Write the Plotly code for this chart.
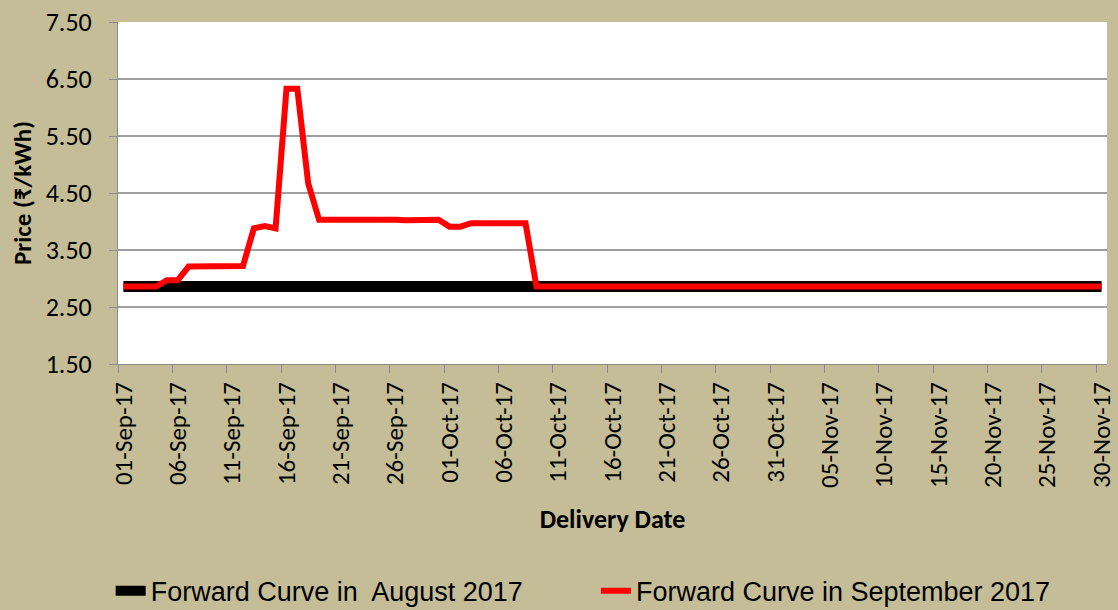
import plotly.graph_objects as go
import pandas as pd

dates = pd.date_range("2017-09-01", "2017-11-30", freq="D")

aug_curve = [
    2.86, 2.86, 2.86, 2.86, 2.86, 2.86, 2.86, 2.86, 2.86, 2.86,
    2.86, 2.86, 2.86, 2.86, 2.86, 2.86, 2.86, 2.86, 2.86, 2.86,
    2.86, 2.86, 2.86, 2.86, 2.86, 2.86, 2.86, 2.86, 2.86, 2.86,
    2.86, 2.86, 2.86, 2.86, 2.86, 2.86, 2.86, 2.86, 2.86, 2.86,
    2.86, 2.86, 2.86, 2.86, 2.86, 2.86, 2.86, 2.86, 2.86, 2.86,
    2.86, 2.86, 2.86, 2.86, 2.86, 2.86, 2.86, 2.86, 2.86, 2.86,
    2.86, 2.86, 2.86, 2.86, 2.86, 2.86, 2.86, 2.86, 2.86, 2.86,
    2.86, 2.86, 2.86, 2.86, 2.86, 2.86, 2.86, 2.86, 2.86, 2.86,
    2.86, 2.86, 2.86, 2.86, 2.86, 2.86, 2.86, 2.86, 2.86, 2.86,
    2.86,
]

sep_curve = [
    2.86, 2.86, 2.86, 2.86, 2.97, 2.97, 3.21, 3.21, 3.21, 3.22,
    3.22, 3.22, 3.88, 3.92, 3.88, 6.33, 6.33, 4.67, 4.03, 4.03,
    4.03, 4.03, 4.03, 4.05, 4.03, 4.03, 4.02, 4.02, 4.03, 4.03,
    3.91, 3.91, 3.97, 3.97, 3.97, 3.97, 3.97, 3.97, 2.86, 2.86,
    2.86, 2.86, 2.86, 2.86, 2.86, 2.86, 2.86, 2.86, 2.86, 2.86,
    2.86, 2.86, 2.86, 2.86, 2.86, 2.86, 2.86, 2.86, 2.86, 2.86,
    2.86, 2.86, 2.86, 2.86, 2.86, 2.86, 2.86, 2.86, 2.86, 2.86,
    2.86, 2.86, 2.86, 2.86, 2.86, 2.86, 2.86, 2.86, 2.86, 2.86,
    2.86, 2.86, 2.86, 2.86, 2.86, 2.86, 2.86, 2.86, 2.86, 2.86,
    2.86,
]

label_dates = dates[::5]
tick_labels = [d.strftime("%d-%b-%y") for d in label_dates]
tick_marks = label_dates - pd.Timedelta(hours=12)

y_ticks = [1.5, 2.5, 3.5, 4.5, 5.5, 6.5, 7.5]
y_labels = ["1.50", "2.50", "3.50", "4.50", "5.50", "6.50", "7.50"]

fig = go.Figure()
fig.add_trace(go.Scatter(
    x=dates, y=aug_curve, mode="lines", name="Forward Curve in  August 2017",
    line=dict(color="#000000", width=11), legend="legend",
))
fig.add_trace(go.Scatter(
    x=dates, y=sep_curve, mode="lines", name="Forward Curve in September 2017",
    line=dict(color="#FF0000", width=6), legend="legend2",
))

calibri = "Carlito, Calibri, Lato, sans-serif"
legend_font = dict(family="Liberation Sans, Arial, sans-serif", size=27, color="#000000")

fig.update_layout(
    width=1118, height=610,
    margin=dict(l=118, r=11, t=22, b=246, autoexpand=False),
    paper_bgcolor="#C4BD97",
    plot_bgcolor="#FFFFFF",
    showlegend=True,
    legend=dict(orientation="h", xref="container", yref="container",
                x=0.099, y=0.031, xanchor="left", yanchor="middle",
                font=legend_font, bgcolor="rgba(0,0,0,0)", visible=True),
    legend2=dict(orientation="h", xref="container", yref="container",
                 x=0.533, y=0.031, xanchor="left", yanchor="middle",
                 font=legend_font, bgcolor="rgba(0,0,0,0)", visible=True),
    xaxis=dict(
        type="date", automargin=False,
        range=[dates[0] - pd.Timedelta(hours=12), dates[-1] + pd.Timedelta(hours=12)],
        tickmode="array", tickvals=list(label_dates), ticktext=tick_labels,
        tickangle=-90, ticks="", tickfont=dict(family=calibri, size=25, color="#000000"),
        ticklabelstandoff=7,
        showgrid=False, showline=True, linecolor="#8C8C8C", linewidth=1,
        minor=dict(tickmode="array", tickvals=list(tick_marks), ticks="outside",
                   ticklen=8, tickwidth=1, tickcolor="#8C8C8C", showgrid=False),
        title=dict(text="<b>Delivery Date</b>", standoff=22,
                   font=dict(family=calibri, size=26, color="#000000")),
        zeroline=False,
    ),
    yaxis=dict(
        range=[1.5, 7.5], automargin=False,
        tickmode="array", tickvals=y_ticks, ticktext=y_labels,
        ticks="outside", ticklen=8, tickwidth=1, tickcolor="#8C8C8C",
        tickfont=dict(family=calibri, size=26, color="#000000"),
        ticklabelstandoff=12,
        showgrid=True, gridcolor="#A0A0A0", gridwidth=1.5,
        showline=True, linecolor="#8C8C8C", linewidth=1,
        title=dict(text="<b>Price (₹/kWh)</b>", standoff=6,
                   font=dict(family=calibri, size=25, color="#000000")),
        zeroline=False,
    ),
)

fig.write_html("out.html", config={"displayModeBar": False},
               post_script="document.body.style.margin='0px';")
